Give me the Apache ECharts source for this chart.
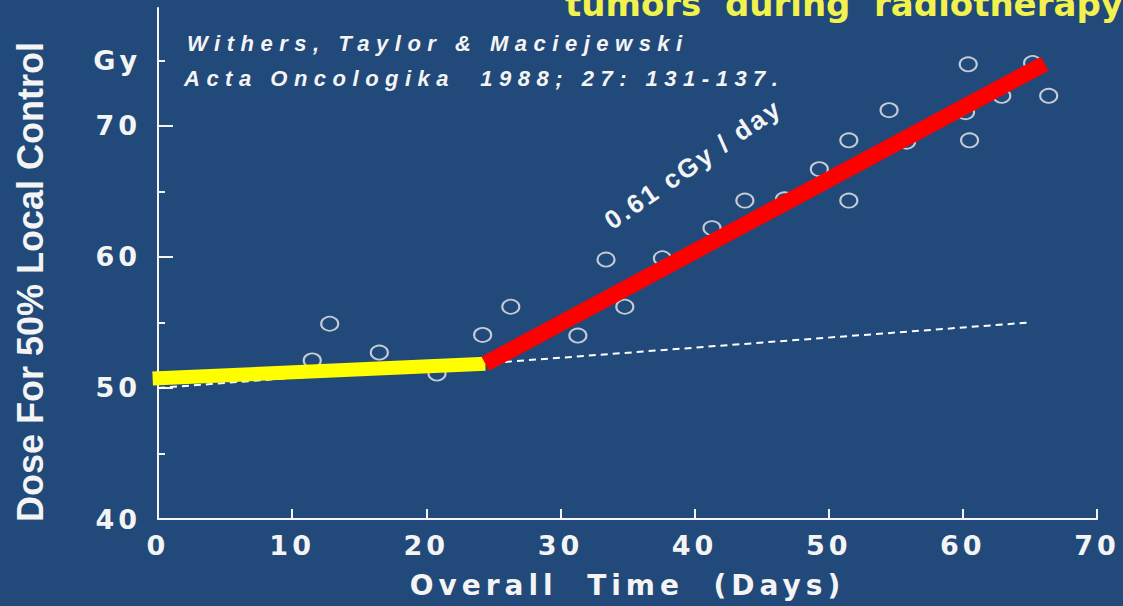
<!DOCTYPE html>
<html>
<head>
<meta charset="utf-8">
<script src="https://cdn.jsdelivr.net/npm/echarts@6/dist/echarts.min.js"></script>
<style>
html,body{margin:0;padding:0;background:#21497a;}
#c{width:1123px;height:606px;}
/* letter spacing of the original slide's lettering */
#c text[style*="italic"]{letter-spacing:6.5px;}
#c text[style*="27px"]{letter-spacing:4px;}
#c text[style*="28px"]{letter-spacing:5px;}
#c text[style*="26px"]{letter-spacing:2.5px;}
</style>
</head>
<body>
<div id="c"></div>
<script>
// Data points: [overall time (days), dose for 50% local control (Gy)]
const pointDays = [11.5, 12.8, 16.5, 20.8, 24.2, 26.3, 31.3, 33.4, 34.8, 37.6, 41.3, 43.75, 46.7, 49.3, 51.5, 51.5, 54.5, 55.8, 60.2, 60.5, 60.4, 62.9, 65.2, 66.4];
const pointDose = [52.1, 54.9, 52.7, 51.1, 54.05, 56.2, 54.0, 59.8, 56.2, 59.9, 62.2, 64.3, 64.4, 66.7, 68.9, 64.3, 71.2, 68.8, 71.05, 68.9, 74.7, 72.3, 74.8, 72.3];
// Fitted lines
const yellowLineDays = [-0.4, 24.4];
const yellowLineDose = [50.72, 51.85];
const redLineDays = [24.4, 66.1];
const redLineDose = [51.85, 74.75];
const dashedLineDays = [0, 65];
const dashedLineDose = [50.0, 55.0];
// Axis ticks
const xTicks = [0, 10, 20, 30, 40, 50, 60, 70];
const yMajorTicks = [40, 50, 60, 70];
const yLabelValues = [40, 50, 60, 70, 75];
const yMinorTicks = [45, 55, 65, 75];
const yUnitLabel = 'Gy';

const zip = (a, b) => a.map((v, i) => [v, b[i]]);

const chart = echarts.init(document.getElementById('c'), null, {renderer: 'svg'});
const white = '#f4f4f4';
const labelFont = {color: white, fontFamily: 'DejaVu Sans', fontWeight: 'bold', fontSize: 27};

chart.setOption({
  backgroundColor: '#21497a',
  animation: false,
  grid: {left: 158, right: 26, top: 8, bottom: 87},
  xAxis: {
    type: 'value', min: 0, max: 70, interval: 10,
    name: 'Overall  Time  (Days)', nameLocation: 'middle', nameGap: 52,
    nameTextStyle: {color: white, fontFamily: 'DejaVu Sans', fontWeight: 'bold', fontSize: 28},
    axisLine: {show: true, lineStyle: {color: white, width: 2}},
    axisTick: {show: true, inside: true, length: 10, lineStyle: {color: white, width: 2}, customValues: xTicks},
    axisLabel: Object.assign({margin: 13, customValues: xTicks}, labelFont),
    splitLine: {show: false}
  },
  yAxis: [{
    type: 'value', min: 40, max: 79, interval: 5,
    axisLine: {show: true, lineStyle: {color: white, width: 2}},
    axisTick: {show: true, inside: true, length: 15, lineStyle: {color: white, width: 2}, customValues: yMajorTicks},
    axisLabel: Object.assign({margin: 17, customValues: yLabelValues,
      formatter: v => (v === 75 ? yUnitLabel : String(v))}, labelFont),
    splitLine: {show: false}
  }, {
    type: 'value', min: 40, max: 79, interval: 5, position: 'left',
    axisLine: {show: false},
    axisTick: {show: true, inside: true, length: 7, lineStyle: {color: white, width: 2}, customValues: yMinorTicks},
    axisLabel: {show: false},
    splitLine: {show: false}
  }],
  series: [
    {
      type: 'scatter', z: 2,
      data: zip(pointDays, pointDose),
      symbol: 'circle', symbolSize: [17, 14],
      itemStyle: {color: 'rgba(0,0,0,0)', borderColor: '#ececec', borderWidth: 2}
    },
    {
      type: 'line', z: 3, clip: false, symbol: 'none',
      data: zip(dashedLineDays, dashedLineDose),
      lineStyle: {color: '#ffffff', width: 2, type: [7, 5]}
    },
    {
      type: 'line', z: 4, clip: false, symbol: 'none',
      data: zip(yellowLineDays, yellowLineDose),
      lineStyle: {color: '#ffff00', width: 14, cap: 'butt'}
    },
    {
      type: 'line', z: 5, clip: false, symbol: 'none',
      data: zip(redLineDays, redLineDose),
      lineStyle: {color: '#ff0000', width: 16, cap: 'butt'}
    }
  ],
  graphic: [
    {
      type: 'text', x: 565, y: 4, z: 10,
      style: {text: 'tumors  during  radiotherapy', fill: '#f2f24e', font: 'bold 34px "DejaVu Sans"', verticalAlign: 'middle'}
    },
    {
      type: 'text', x: 187, y: 43, z: 10,
      style: {text: 'Withers, Taylor & Maciejewski', fill: white, font: 'italic bold 22px "Liberation Sans"', verticalAlign: 'middle'}
    },
    {
      type: 'text', x: 184, y: 78, z: 10,
      style: {text: 'Acta Oncologika  1988; 27: 131-137.', fill: white, font: 'italic bold 22px "Liberation Sans"', verticalAlign: 'middle'}
    },
    {
      type: 'text', x: 693, y: 164, rotation: 34.5 * Math.PI / 180, z: 10,
      style: {text: '0.61 cGy / day', fill: white, font: 'bold 26px "Liberation Sans"', align: 'center', verticalAlign: 'middle'}
    },
    {
      type: 'text', x: 30, y: 282, rotation: Math.PI / 2, z: 10,
      style: {text: 'Dose For 50% Local Control', fill: white, font: 'bold 36px "Liberation Sans"', align: 'center', verticalAlign: 'middle'}
    }
  ]
});
</script>
</body>
</html>
